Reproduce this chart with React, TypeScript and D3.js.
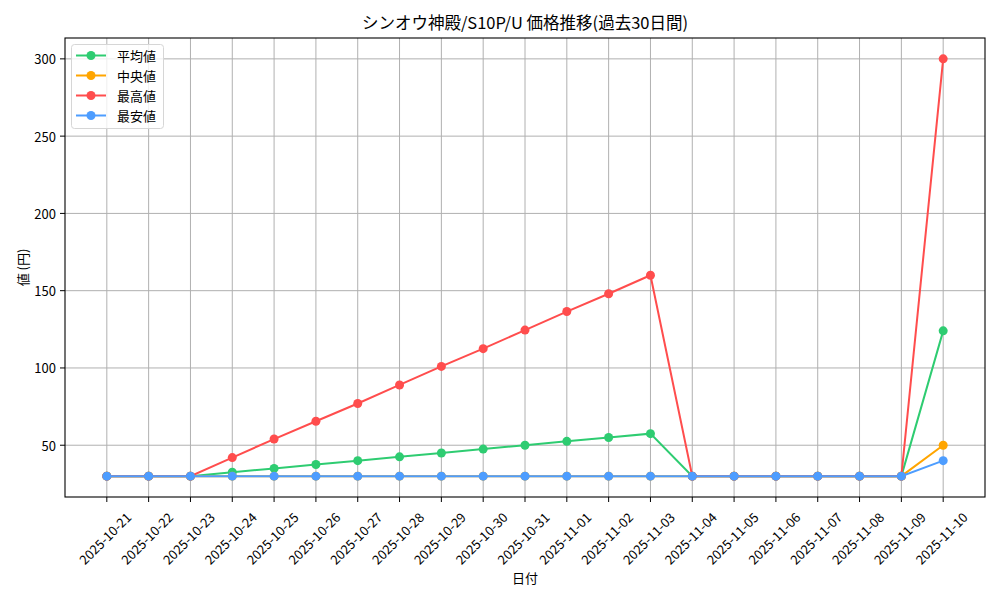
import React from "react";
import * as d3 from "d3";

const dates = [
  "2025-10-21", "2025-10-22", "2025-10-23", "2025-10-24", "2025-10-25", "2025-10-26", "2025-10-27",
  "2025-10-28", "2025-10-29", "2025-10-30", "2025-10-31", "2025-11-01", "2025-11-02", "2025-11-03",
  "2025-11-04", "2025-11-05", "2025-11-06", "2025-11-07", "2025-11-08", "2025-11-09", "2025-11-10",
];
const avgValues = [30, 30, 30, 32.5, 35, 37.5, 40, 42.5, 45, 47.5, 50, 52.5, 55, 57.5, 30, 30, 30, 30, 30, 30, 124];
const medianValues = [30, 30, 30, 30, 30, 30, 30, 30, 30, 30, 30, 30, 30, 30, 30, 30, 30, 30, 30, 30, 50];
const maxValues = [30, 30, 30, 42, 54, 65.5, 77, 89, 101, 112.5, 124.5, 136.5, 148, 160, 30, 30, 30, 30, 30, 30, 300];
const minValues = [30, 30, 30, 30, 30, 30, 30, 30, 30, 30, 30, 30, 30, 30, 30, 30, 30, 30, 30, 30, 40];
const yTicks = [50, 100, 150, 200, 250, 300];

const series = [
  { name: "平均値", values: avgValues, color: "#2ecc71" },
  { name: "中央値", values: medianValues, color: "#ffa500" },
  { name: "最高値", values: maxValues, color: "#ff4d4d" },
  { name: "最安値", values: minValues, color: "#4d9dff" },
];

const W = 1000, H = 600;
const L = 65, R = 985, T = 38, B = 497;
const FONT = "'Noto Sans CJK JP', 'DejaVu Sans', sans-serif";

export default function App() {
  const x = d3.scaleLinear().domain([-1, dates.length]).range([L, R]);
  const allVals = series.flatMap((s) => s.values);
  const ymin = d3.min(allVals)!, ymax = d3.max(allVals)!;
  const pad = (ymax - ymin) * 0.05;
  const y = d3.scaleLinear().domain([ymin - pad, ymax + pad]).range([B, T]);
  const line = d3.line<number>().x((_, i) => x(i)).y((v) => y(v));

  return (
    <svg width={W} height={H} style={{ position: "absolute", left: 0, top: 0, background: "#fff" }} fontFamily={FONT}>
      <rect x={0} y={0} width={W} height={H} fill="#fff" />
      {/* grid */}
      {dates.map((_, i) => (
        <line key={"gx" + i} x1={x(i)} x2={x(i)} y1={T} y2={B} stroke="#b0b0b0" strokeWidth={1} />
      ))}
      {yTicks.map((t) => (
        <line key={"gy" + t} x1={L} x2={R} y1={y(t)} y2={y(t)} stroke="#b0b0b0" strokeWidth={1} />
      ))}
      {/* series */}
      {series.map((s) => (
        <g key={s.name}>
          <path d={line(s.values)!} fill="none" stroke={s.color} strokeWidth={2} />
          {s.values.map((v, i) => (
            <circle key={i} cx={x(i)} cy={y(v)} r={4.5} fill={s.color} />
          ))}
        </g>
      ))}
      {/* axes frame */}
      <rect x={L} y={T} width={R - L} height={B - T} fill="none" stroke="#000" strokeWidth={1.1} />
      {/* x ticks */}
      {dates.map((d, i) => (
        <g key={"xt" + i}>
          <line x1={x(i)} x2={x(i)} y1={B} y2={B + 5} stroke="#000" />
          <text
            transform={`translate(${x(i) - 2},${B + 41}) rotate(-45)`}
            textAnchor="middle"
            dominantBaseline="central"
            fontSize={13}
            fill="#000"
          >
            {d}
          </text>
        </g>
      ))}
      {/* y ticks */}
      {yTicks.map((t) => (
        <g key={"yt" + t}>
          <line x1={L - 5} x2={L} y1={y(t)} y2={y(t)} stroke="#000" />
          <text x={L - 9} y={y(t)} textAnchor="end" dominantBaseline="central" fontSize={13} fill="#000">
            {t}
          </text>
        </g>
      ))}
      {/* labels */}
      <text x={(L + R) / 2} y={583} textAnchor="middle" fontSize={13} fill="#000">日付</text>
      <text transform={`translate(22,${(T + B) / 2}) rotate(-90)`} textAnchor="middle" dominantBaseline="central" fontSize={13} fill="#000">
        値 (円)
      </text>
      <text x={(L + R) / 2} y={29} textAnchor="middle" fontSize={16.5} fill="#000">
        シンオウ神殿/S10P/U 価格推移(過去30日間)
      </text>
      {/* legend */}
      <rect x={71.5} y={44.5} width={92} height={84} rx={3} fill="#fff" fillOpacity={0.8} stroke="#d6d6d6" />
      {series.map((s, i) => (
        <g key={"lg" + i}>
          <line x1={76} x2={106} y1={55.5 + i * 20} y2={55.5 + i * 20} stroke={s.color} strokeWidth={2} />
          <circle cx={91} cy={55.5 + i * 20} r={4.5} fill={s.color} />
          <text x={117} y={55.5 + i * 20} dominantBaseline="central" fontSize={13} fill="#000">
            {s.name}
          </text>
        </g>
      ))}
    </svg>
  );
}
